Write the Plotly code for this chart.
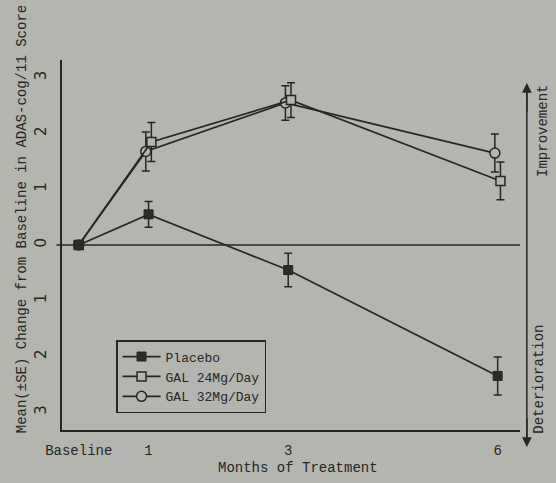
import plotly.graph_objects as go

# ---- data ----
months = [0, 1, 3, 6]
month_labels = ["Baseline", "1", "3", "6"]

placebo = [0.0, 0.55, -0.45, -2.35]
placebo_se = [None, 0.23, 0.30, 0.34]

gal24 = [0.0, 1.85, 2.60, 1.15]
gal24_se = [None, 0.35, 0.31, 0.34]

gal32 = [0.0, 1.68, 2.55, 1.65]
gal32_se = [None, 0.35, 0.31, 0.34]

y_tickvals = [3, 2, 1, 0, -1, -2, -3]
y_ticktext = ["3", "2", "1", "0", "1", "2", "3"]

# ---- style ----
BG = "#b4b5af"
INK = "#262626"
MONO = "Liberation Mono"
DODGE = 0.04


def dodge(xs, d):
    return [x + (d if x > 0 else 0) for x in xs]


fig = go.Figure()

common_err = dict(type="data", visible=True, color=INK, thickness=1.5, width=4)

fig.add_trace(go.Scatter(
    x=dodge(months, -DODGE), y=gal32, name="GAL 32Mg/Day", mode="lines+markers",
    line=dict(color=INK, width=1.7),
    marker=dict(symbol="circle", size=10, color=BG, line=dict(color=INK, width=1.5)),
    error_y=dict(array=gal32_se, **common_err), legendrank=3,
))
fig.add_trace(go.Scatter(
    x=dodge(months, DODGE), y=gal24, name="GAL 24Mg/Day", mode="lines+markers",
    line=dict(color=INK, width=1.7),
    marker=dict(symbol="square", size=9, color=BG, line=dict(color=INK, width=1.5)),
    error_y=dict(array=gal24_se, **common_err), legendrank=2,
))
fig.add_trace(go.Scatter(
    x=months, y=placebo, name="Placebo", mode="lines+markers",
    line=dict(color=INK, width=1.7),
    marker=dict(symbol="square", size=9, color="#2b2b2b", line=dict(color=INK, width=1)),
    error_y=dict(array=placebo_se, **common_err), legendrank=1,
))

# zero line (extends slightly left of the axis)
fig.add_shape(type="line", xref="paper", yref="y", x0=-0.012, x1=1.0, y0=0, y1=0,
              line=dict(color=INK, width=1.5))

ann_font = dict(family=MONO, size=14, color=INK)
centered = dict(xref="paper", yref="paper", xanchor="center", yanchor="middle",
                showarrow=False, font=ann_font)
fig.add_annotation(text="Mean(\u00b1SE) Change from Baseline in ADAS-cog/11 Score",
                   x=-0.087, y=0.57, textangle=-90, **centered)
fig.add_annotation(text="Months of Treatment", x=0.515, y=-0.103, **centered)
fig.add_annotation(text="Improvement", x=1.050, y=0.808, textangle=-90, **centered)
fig.add_annotation(text="Deterioration", x=1.041, y=0.138, textangle=-90, **centered)

# double arrow on the right: continuous shaft + two heads
ARROW_X, ARROW_TOP, ARROW_BOTTOM = 1.015, 0.938, -0.046
fig.add_shape(type="line", xref="paper", yref="paper", x0=ARROW_X, x1=ARROW_X,
              y0=ARROW_BOTTOM + 0.02, y1=ARROW_TOP - 0.02, line=dict(color=INK, width=1.5))
for tip_y, ay in [(ARROW_TOP, 30), (ARROW_BOTTOM, -30)]:
    fig.add_annotation(text="", xref="paper", yref="paper", x=ARROW_X, y=tip_y,
                       ax=0, ay=ay, showarrow=True, arrowhead=2, arrowsize=1.3,
                       arrowwidth=1.5, arrowcolor=INK, standoff=0)

fig.update_layout(
    width=556, height=483,
    margin=dict(l=62, r=36, t=60, b=53),
    paper_bgcolor=BG, plot_bgcolor=BG,
    font=dict(family=MONO, size=14, color=INK),
    showlegend=True,
    legend=dict(x=0.118, y=0.243, xanchor="left", yanchor="top",
                bgcolor="rgba(0,0,0,0)", bordercolor=INK, borderwidth=1.5,
                font=dict(family=MONO, size=13, color=INK),
                itemwidth=38, tracegroupgap=0),
    xaxis=dict(range=[-0.24, 6.32], tickvals=months, ticktext=month_labels,
               showgrid=False, zeroline=False, showline=True, linecolor=INK,
               linewidth=1.5, ticks="", ticklabelstandoff=6,
               tickfont=dict(family=MONO, size=14, color=INK)),
    yaxis=dict(range=[-3.32, 3.32], tickvals=y_tickvals, ticktext=y_ticktext,
               showgrid=False, zeroline=False, showline=True, linecolor=INK,
               linewidth=1.5, ticks="", tickangle=-90, ticklabelstandoff=8,
               tickfont=dict(family="DejaVu Sans", size=15, color=INK)),
)

fig.write_html("out.html")
